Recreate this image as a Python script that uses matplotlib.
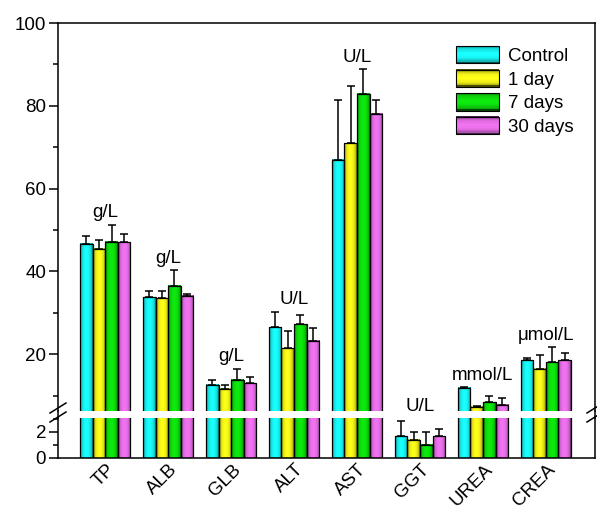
import numpy as np
import matplotlib
matplotlib.use("Agg")
import matplotlib.pyplot as plt
import matplotlib.transforms as mtransforms
from matplotlib.lines import Line2D
from matplotlib.patches import Rectangle
from matplotlib.legend_handler import HandlerBase
from matplotlib.ticker import MultipleLocator

plt.rcParams['font.family'] = ['Liberation Sans', 'DejaVu Sans']

# ---- data ----
categories = ['TP', 'ALB', 'GLB', 'ALT', 'AST', 'GGT', 'UREA', 'CREA']
units = ['g/L', 'g/L', 'g/L', 'U/L', 'U/L', 'U/L', 'mmol/L', 'μmol/L']
groups = ['Control', '1 day', '7 days', '30 days']

control = [46.7, 33.8, 12.6, 26.5, 67.0, 1.67, 11.9, 18.6]
day1 = [45.5, 33.5, 11.7, 21.5, 71.0, 1.37, 7.3, 16.5]
day7 = [47.2, 36.5, 13.9, 27.3, 82.9, 0.99, 8.4, 18.1]
day30 = [47.1, 34.1, 13.0, 23.3, 78.1, 1.67, 7.8, 18.6]

control_err = [1.9, 1.6, 1.2, 3.8, 14.5, 1.17, 0.2, 0.5]
day1_err = [2.1, 1.9, 0.8, 4.2, 13.9, 0.58, 0.2, 3.3]
day7_err = [4.1, 3.8, 2.6, 2.2, 6.0, 1.01, 1.5, 3.6]
day30_err = [1.9, 0.4, 1.4, 3.1, 3.4, 0.54, 1.6, 1.8]

values = [control, day1, day7, day30]
errors = [control_err, day1_err, day7_err, day30_err]
colors = [(0.1, 1.0, 1.0), (1.0, 1.0, 0.1), (0.05, 0.92, 0.05), (0.95, 0.45, 0.95)]

W, H = 597, 513


def fx(x):
    return x / W


def fy(y):
    return 1 - y / H


def shade(base, n=40):
    t = np.linspace(0, 1, n)
    s = 0.3 + 0.7 * np.sin(np.pi * t) ** 0.35
    return np.clip(np.array(base)[None, :] * s[:, None], 0, 1)


fig = plt.figure(figsize=(W / 100, H / 100), dpi=100)
left, right = 58, 595
ax_top = fig.add_axes([fx(left), fy(411), fx(right - left), (411 - 23) / H])
ax_bot = fig.add_axes([fx(left), fy(458), fx(right - left), (458 - 418) / H])

x = np.arange(len(categories))
bw = 0.2
fs = 13.5

for ax in (ax_top, ax_bot):
    for k, (vals, errs, col) in enumerate(zip(values, errors, colors)):
        pos = x + (k - 1.5) * bw
        bars = ax.bar(pos, vals, bw, facecolor='none', edgecolor='black',
                      linewidth=0.9, zorder=3)
        grad = shade(col)[None, :, :]
        for r in bars:
            ax.imshow(grad, extent=[r.get_x(), r.get_x() + r.get_width(), 0, r.get_height()],
                      aspect='auto', interpolation='bilinear', zorder=2)
        ax.errorbar(pos, vals, yerr=[np.zeros(len(errs)), errs], fmt='none',
                    ecolor='black', elinewidth=1.1, capsize=2.6, capthick=1.1, zorder=4)
    ax.set_xlim(-0.75, 7.78)
    for s in ax.spines.values():
        s.set_linewidth(1.1)
    ax.tick_params(axis='y', which='major', direction='out', length=6.5, width=1.1,
                   labelsize=fs, pad=2)
    ax.tick_params(axis='y', which='minor', direction='out', length=3.5, width=1.1)
    ax.tick_params(axis='x', length=0)

ax_top.set_ylim(6.3, 100)
ax_top.yaxis.set_major_locator(MultipleLocator(20))
ax_top.yaxis.set_minor_locator(MultipleLocator(10))
ax_top.spines['bottom'].set_visible(False)
ax_top.set_xticks([])

ax_bot.set_ylim(0, 3.04)
ax_bot.yaxis.set_major_locator(MultipleLocator(2))
ax_bot.yaxis.set_minor_locator(MultipleLocator(1))
ax_bot.spines['top'].set_visible(False)
ax_bot.set_xticks(x)
ax_bot.set_xticklabels(categories, rotation=45, ha='right', va='center',
                       rotation_mode='anchor', fontsize=fs)
off = mtransforms.ScaledTranslation(7 / 100, -4 / 100, fig.dpi_scale_trans)
for lab in ax_bot.get_xticklabels():
    lab.set_transform(lab.get_transform() + off)

# unit labels above each group
for i, u in enumerate(units):
    top = max(v[i] + e[i] for v, e in zip(values, errors))
    ax = ax_bot if top < 3 else ax_top
    extra = 2 if top < 3 else 0
    ax.annotate(u, (x[i], top), xytext=(0, 8.5 + extra), textcoords='offset points',
                ha='center', va='center', fontsize=fs, annotation_clip=False)

# continuous spines across the break, and break marks
for xs in (left, right):
    fig.add_artist(Line2D([fx(xs), fx(xs)], [fy(411), fy(418)], color='black',
                          linewidth=1.1, transform=fig.transFigure))
    for yc in (408, 417):
        fig.add_artist(Line2D([fx(xs - 8), fx(xs + 8)], [fy(yc + 5), fy(yc - 5)],
                              color='black', linewidth=1.1, transform=fig.transFigure))


class GradHandler(HandlerBase):
    def __init__(self, color):
        super().__init__()
        self.color = color

    def create_artists(self, legend, orig_handle, xdescent, ydescent, width, height,
                       fontsize, trans):
        n = 14
        cols = shade(self.color, n)
        arts = []
        for j in range(n):
            arts.append(Rectangle((-xdescent, -ydescent + height * (n - 1 - j) / n),
                                  width, height / n + 0.3, facecolor=cols[j],
                                  edgecolor='none', transform=trans))
        arts.append(Rectangle((-xdescent, -ydescent), width, height, facecolor='none',
                              edgecolor='black', linewidth=0.8, transform=trans))
        return arts


handles = [Rectangle((0, 0), 1, 1, facecolor=c) for c in colors]
ax_top.legend(handles, groups, loc='upper left', bbox_to_anchor=(fx(456), fy(46)),
              bbox_transform=fig.transFigure, frameon=False, fontsize=fs,
              handlelength=2.3, handleheight=1.05, labelspacing=0.24,
              handletextpad=0.45, borderpad=0, borderaxespad=0,
              handler_map={h: GradHandler(c) for h, c in zip(handles, colors)})

fig.savefig('out.png', dpi=100)
